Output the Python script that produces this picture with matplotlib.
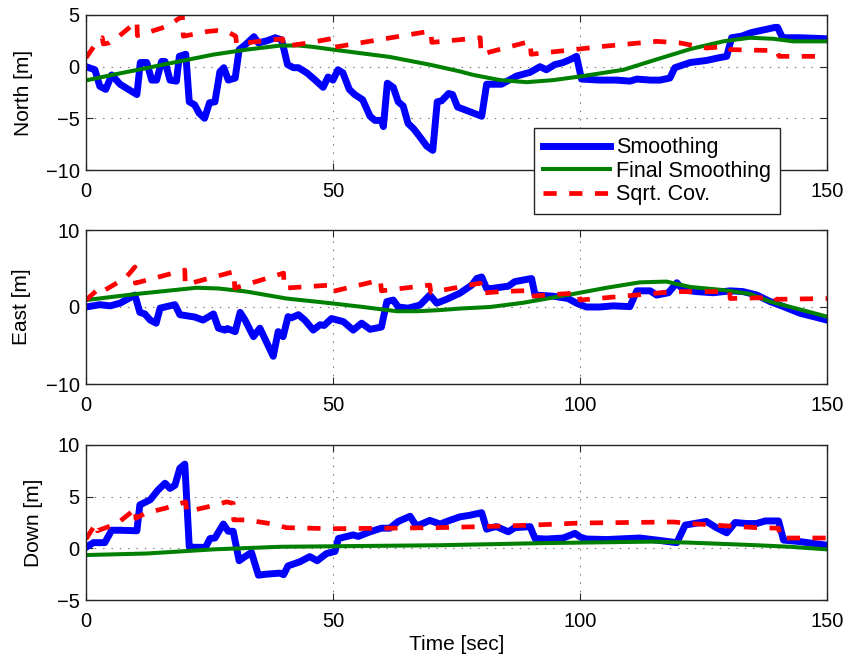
import matplotlib
matplotlib.use("Agg")
import matplotlib.pyplot as plt

plt.rcParams['font.family'] = ['Liberation Sans', 'DejaVu Sans']
plt.rcParams['lines.scale_dashes'] = False

# ---------------- North ----------------
north_smooth_t = [0, 1.8, 2.8, 4, 5.2, 6.9, 10.3, 11, 12.3, 13.3, 14.3, 15.3, 16, 17, 18.3, 18.9, 20.2,
                  20.9, 22, 22.9, 24, 25, 26.1, 27.1, 27.9, 28.8, 30.2, 31, 32.2, 34, 34.9, 36.6, 38.3,
                  39.6, 40.8, 42, 43, 44.7, 46.4, 48, 49, 50, 51, 52, 53.3, 54.4, 56, 57.5, 58.5, 59.8,
                  60.2, 61, 62.2, 63.2, 64.2, 65.2, 66.3, 67.6, 69, 70.2, 71.1, 72, 73.4, 74.2, 75.2,
                  80.1, 81.1, 84.1, 87.2, 89.9, 91.9, 93.2, 94.9, 96.6, 98.3, 99.3, 100.3, 104, 107.4,
                  110.1, 111.5, 114.2, 116.2, 118.2, 119.2, 122.3, 125.6, 128, 129.7, 130.7, 132.7,
                  134.7, 137.1, 139.5, 140, 141, 144.5, 150]
north_smooth_v = [0.0, -0.3, -1.9, -2.2, -0.8, -1.7, -2.7, 0.4, 0.4, -1.3, -1.3, 0.5, 0.5, -1.3, -1.4, 1.0, 1.2,
                  -3.4, -3.7, -4.5, -5.0, -3.5, -3.4, -0.5, -0.1, -1.3, -1.1, 1.65, 2.1, 2.9, 2.3, 2.5, 2.8,
                  2.6, 0.2, -0.1, -0.1, -0.6, -1.3, -2.0, -1.0, -1.3, -0.3, -0.6, -2.2, -2.7, -3.2, -4.8, -5.2, -5.2,
                  -5.8, -1.6, -2.0, -3.4, -3.8, -5.5, -6.0, -6.8, -7.7, -8.1, -3.4, -3.3, -2.6, -2.7, -3.9,
                  -4.8, -1.7, -1.7, -0.9, -0.55, 0.0, -0.3, 0.2, 0.4, 0.75, 1.0, -1.2, -1.3, -1.3,
                  -1.4, -1.2, -1.3, -1.3, -1.1, -0.1, 0.4, 0.6, 0.85, 1.0, 2.8, 2.95,
                  3.3, 3.55, 3.8, 3.8, 2.8, 2.8, 2.7]
north_final_t = [0, 5.5, 12.3, 19, 25.8, 32.5, 39.3, 43, 46, 50, 61.5, 69.6, 75.7, 78.4, 83.8, 89.2, 94.6,
                 100, 108.8, 115.5, 122.3, 129, 134.4, 139.1, 143.2, 150]
north_final_v = [-1.33, -0.78, -0.13, 0.52, 1.17, 1.65, 2.04, 2.05, 1.91, 1.65, 0.94, 0.19, -0.46, -0.8, -1.3,
                 -1.5, -1.3, -0.95, -0.3, 0.7, 1.7, 2.45, 2.8, 2.7, 2.45, 2.45]
north_cov_t = [0, 2.3, 3.3, 3.5, 4.7, 6.3, 8.7, 10.3, 10.4, 11, 13.1, 15.4, 17.1, 19.5, 19.7, 22.5, 24.5,
               26.6, 28.6, 30.3, 30.5, 35, 39.8, 40, 45, 49.6, 49.8, 58, 69.8, 70, 79.8, 80.0, 89.9, 90.1,
               98.7, 105.4, 115.5, 120.2, 125.6, 129.7, 130.5, 139.8, 140.3, 150]
north_cov_v = [0.85, 2.45, 2.8, 2.2, 2.3, 2.8, 3.75, 4.4, 3.0, 3.1, 3.4, 3.75, 4.1, 4.9, 2.95, 3.2, 3.4,
               3.5, 3.4, 2.95, 2.2, 2.45, 2.7, 1.95, 2.3, 2.7, 1.85, 2.5, 3.45, 2.35, 2.8, 1.2, 2.45, 1.2,
               1.65, 2.0, 2.45, 2.3, 1.8, 1.97, 1.65, 1.55, 1.0, 1.0]

# ---------------- East ----------------
east_smooth_t = [0, 2.8, 4.9, 6.9, 9.9, 10.9, 11.9, 13, 14.2, 15, 16.3, 18, 19, 22, 23.7, 25.8, 26.8, 28.1,
                 28.6, 30.2, 31.2, 32.2, 33.9, 35.2, 37.9, 38.9, 39.9, 40.9, 41.6, 43, 44.3, 46, 47.4, 48.2,
                 49.7, 52.1, 54.1, 55.8, 57.5, 59.8, 60.9, 62.2, 63.2, 65.2, 67.6, 69.6, 71, 73, 75.7,
                 78.1, 79.1, 80.1, 81.1, 82.1, 83.1, 85.5, 86.8, 88.5, 90.2, 90.9, 94.6, 97.6, 99.3,
                 101.3, 104, 106.7, 110.1, 111.5, 114.2, 115.5, 117.9, 119.6, 120.9, 123.6, 127, 130.4,
                 133, 135.8, 138.5, 141.2, 144.5, 150]
east_smooth_v = [0.0, 0.3, 0.15, 0.5, 1.55, -0.7, -0.9, -1.7, -2.1, -0.15, 0.05, 0.3, -1.0, -1.3, -1.7, -0.9, -2.75, -3.0,
                 -2.8, -3.2, -0.7, -1.7, -3.85, -2.75, -6.4, -3.2, -3.85, -1.25, -1.4, -1.0, -1.7, -3.0, -2.3, -2.4,
                 -1.5, -1.9, -3.0, -2.1, -2.9, -2.6, 0.7, 0.9, 0.0, -0.15, 0.25, 1.55, 0.5, 1.0, 1.8,
                 2.85, 3.7, 3.9, 2.4, 2.4, 2.5, 2.7, 3.3, 3.5, 3.7, 1.55, 1.4, 1.1, 0.5,
                 0.0, 0.0, 0.15, 0.05, 2.1, 2.1, 1.55, 1.85, 3.15, 2.2, 2.0, 1.85, 2.1,
                 2.0, 1.55, 0.7, 0.05, -0.8, -1.7]
east_final_t = [0, 10.3, 22.4, 26.9, 32.5, 40.6, 49.4, 56.1, 62.9, 67, 71.7, 75.7, 81.8, 88.5, 98.7, 105.4,
                112.1, 117.5, 122.3, 129, 134.4, 138.5, 150]
east_final_v = [0.9, 1.7, 2.5, 2.4, 2.0, 1.1, 0.5, 0.0, -0.55, -0.55, -0.4, -0.2, 0.0, 0.55, 1.7, 2.5,
                3.2, 3.3, 2.6, 2.2, 1.7, 0.7, -1.25]
east_cov_t = [0, 2.6, 3.3, 6.2, 8.2, 9.9, 10.0, 20.0, 20.1, 30.0, 30.1, 40.0, 40.1, 49.6, 49.8, 59.6, 59.8,
              69.6, 69.8, 79.8, 79.9, 84, 88, 89.8, 89.9, 99.8, 100.0, 119, 130.3, 130.4, 139.5, 139.7, 150]
east_cov_v = [0.9, 2.4, 2.0, 3.1, 3.9, 5.2, 3.1, 4.8, 2.9, 4.6, 2.45, 4.4, 2.45, 2.85, 2.0, 3.5, 2.1,
              2.85, 1.9, 3.1, 1.8, 2.0, 2.1, 2.1, 1.4, 1.85, 0.9, 2.0, 2.0, 1.1, 1.25, 1.0, 1.1]

# ---------------- Down ----------------
down_smooth_t = [0, 1.5, 3.8, 5.2, 6.9, 10.3, 10.9, 13, 14.6, 16, 17, 18, 19, 20, 20.9, 22, 24.2, 25.1,
                 26.1, 27.8, 28.8, 29.8, 31, 32.2, 33.5, 34.9, 36.5, 39.3, 40, 40.9, 43.3, 45.3, 46.8,
                 48.7, 50.4, 51.1, 54.1, 55.1, 57.5, 59.8, 61.5, 63.2, 65.6, 66.9, 69.6, 71.7, 73.6,
                 75.7, 77.7, 80.1, 81.1, 82.1, 83.1, 85.5, 86.8, 89.9, 90.9, 93.2, 96.6, 99, 100,
                 101.3, 105.4, 112.1, 115.5, 119.6, 121.3, 125.6, 127.6, 129.7, 131.4, 133.7, 135.7,
                 137.5, 140.2, 141.2, 144.5, 150]
down_smooth_v = [0.1, 0.55, 0.55, 1.75, 1.75, 1.7, 4.2, 4.7, 5.65, 6.3, 5.8, 6.1, 7.75, 8.15, 0.15, 0.1, 0.1, 0.95,
                 1.0, 2.35, 1.65, 1.65, -1.2, -0.8, -0.4, -2.6, -2.5, -2.4, -2.55, -1.7, -1.3, -0.8, -1.2,
                 -0.5, -0.3, 0.95, 1.3, 1.15, 1.6, 1.95, 1.95, 2.6, 3.1, 2.15, 2.7, 2.35, 2.7,
                 3.05, 3.2, 3.45, 1.85, 2.0, 2.1, 1.6, 2.0, 2.1, 0.95, 0.9, 1.0, 1.45, 1.1,
                 0.9, 0.85, 1.0, 0.8, 0.55, 2.25, 2.6, 2.0, 1.5, 2.5, 2.4, 2.4,
                 2.65, 2.65, 0.8, 0.65, 0.3]
down_final_t = [0, 12.3, 25.8, 39.3, 50, 71.7, 91.9, 114.8, 122.3, 135.8, 142.5, 150]
down_final_v = [-0.65, -0.5, -0.1, 0.15, 0.2, 0.3, 0.5, 0.65, 0.55, 0.3, 0.15, -0.1]
down_cov_t = [0, 2.0, 2.3, 6.3, 9.7, 10.0, 10.1, 12, 16.2, 20.2, 20.4, 24.5, 28.5, 29.8, 29.9, 32.5, 37.2,
              40.6, 50, 61, 71, 80, 90.5, 100, 109.4, 118.9, 122.3, 130.4, 135.8, 140.2, 140.5, 150]
down_cov_v = [0.9, 2.4, 1.7, 2.4, 3.7, 3.9, 2.9, 3.4, 3.9, 4.5, 3.55, 4.0, 4.5, 4.35, 2.75, 2.75, 2.4,
              2.0, 1.9, 1.95, 2.0, 2.1, 2.25, 2.45, 2.5, 2.55, 2.4, 2.15, 2.0, 1.95, 1.0, 1.0]

labels = ["Smoothing", "Final Smoothing", "Sqrt. Cov."]
xticks = [0, 50, 100, 150]

W, H = 848, 657
fig = plt.figure(figsize=(W / 100, H / 100), dpi=100)

def make_ax(top_px, bot_px):
    return fig.add_axes([86 / W, 1 - bot_px / H, 741 / W, (bot_px - top_px) / H])

ax1 = make_ax(15, 170)
ax2 = make_ax(230, 384)
ax3 = make_ax(445, 600)

panels = [
    (ax1, north_smooth_t, north_smooth_v, north_final_t, north_final_v, north_cov_t, north_cov_v,
     (-10, 5), [-10, -5, 0, 5], "North [m]", -0.0715),
    (ax2, east_smooth_t, east_smooth_v, east_final_t, east_final_v, east_cov_t, east_cov_v,
     (-10, 10), [-10, 0, 10], "East [m]", -0.074),
    (ax3, down_smooth_t, down_smooth_v, down_final_t, down_final_v, down_cov_t, down_cov_v,
     (-5, 10), [-5, 0, 5, 10], "Down [m]", -0.0576),
]

for (ax, st, sv, ft, fv, ct, cv, ylim, yt, ylab, lx) in panels:
    ax.plot(st, sv, color=(0, 0, 1), lw=5.0, solid_joinstyle='round', label=labels[0])
    ax.plot(ft, fv, color=(0, 0.5, 0), lw=2.9, label=labels[1])
    ax.plot(ct, cv, color=(1, 0, 0), lw=3.4, linestyle=(0, (9.5, 9.0)), label=labels[2])
    ax.set_xlim(0, 150)
    ax.set_ylim(*ylim)
    ax.set_xticks(xticks)
    ax.set_yticks(yt)
    ax.tick_params(direction='in', top=True, right=True, length=5, width=0.8,
                   labelsize=14.5, colors='0.15', labelcolor='black')
    ax.tick_params(axis='y', pad=4.5)
    ax.tick_params(axis='x', pad=8.5)
    ax.grid(True, linestyle=(0, (1.0, 5.0)), color='0.45', lw=0.8)
    for sp in ax.spines.values():
        sp.set_linewidth(1.0)
        sp.set_color('0.15')
    ax.set_ylabel(ylab, fontsize=15)
    ax.yaxis.set_label_coords(lx, 0.5)

ax3.set_xlabel("Time [sec]", fontsize=15, labelpad=3)

leg = ax1.legend(loc='upper left', bbox_to_anchor=((534 - 86) / 741, (170 - 128) / 155),
                 fontsize=15.5, frameon=True, fancybox=False, framealpha=1, edgecolor='0.15',
                 borderpad=0.42, labelspacing=0.12, handlelength=3.1, handletextpad=0.3,
                 borderaxespad=0)
leg.get_frame().set_linewidth(1.0)
leg.set_zorder(10)

fig.savefig("out.png", dpi=100)
